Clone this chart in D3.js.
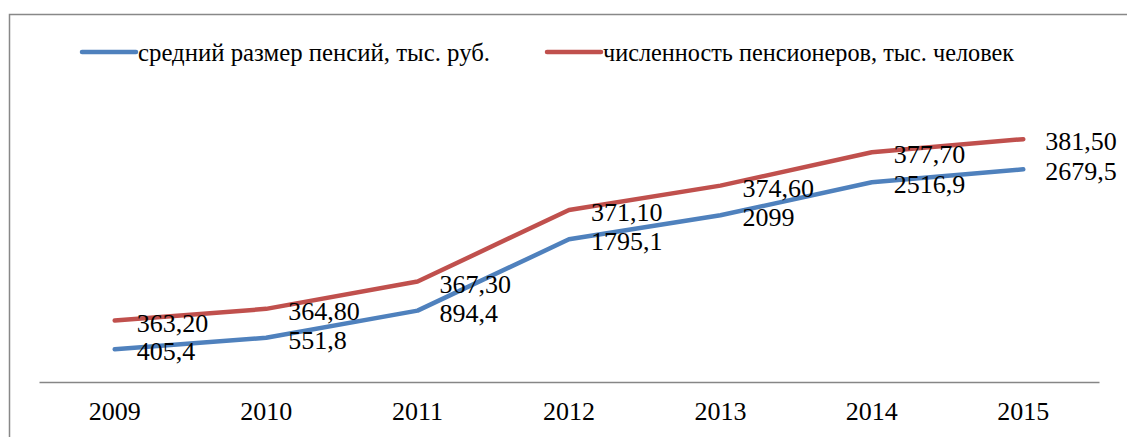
<!DOCTYPE html>
<html>
<head>
<meta charset="utf-8">
<script src="https://cdn.jsdelivr.net/npm/d3@7"></script>
<style>
body { margin: 0; background: #fff; }
</style>
</head>
<body>
<svg width="1127" height="437"></svg>
<script>
// данные
var years = ["2009", "2010", "2011", "2012", "2013", "2014", "2015"];
var pension = [405.4, 551.8, 894.4, 1795.1, 2099, 2516.9, 2679.5];
var pensioners = [363.2, 364.8, 367.3, 371.1, 374.6, 377.7, 381.5];
var pensionLabels = ["405,4", "551,8", "894,4", "1795,1", "2099", "2516,9", "2679,5"];
var pensionersLabels = ["363,20", "364,80", "367,30", "371,10", "374,60", "377,70", "381,50"];
var seriesNames = ["средний размер пенсий, тыс. руб.", "численность пенсионеров, тыс. человек"];
var colors = ["#4F81BD", "#C0504D"];

var FONT = "'Liberation Serif', 'Times New Roman', serif";
var svg = d3.select("svg");

// рамка диаграммы
svg.append("rect")
  .attr("x", 9.5).attr("y", 14.5)
  .attr("width", 1140).attr("height", 440)
  .attr("fill", "none").attr("stroke", "#888").attr("stroke-width", 1.5);

var x = d3.scaleBand().domain(years).range([39, 1099]);
// график с накоплением: вторая серия лежит поверх первой
var y = d3.scaleLinear().domain([0, 3500]).range([381.4, 104.4]);

var stacked = pensioners.map(function (v, i) { return v + pension[i]; });

svg.append("g")
  .attr("transform", "translate(0,382)")
  .call(d3.axisBottom(x).tickSize(0).tickPadding(20))
  .call(function (g) {
    g.select(".domain").attr("stroke", "#868686").attr("stroke-width", 1.5);
    g.selectAll("text").attr("font-size", 26).style("font-family", FONT).attr("fill", "#000");
  });

var line = d3.line()
  .x(function (d, i) { return x(years[i]) + x.bandwidth() / 2; })
  .y(function (d) { return y(d); });

var series = [
  { vals: pension, labels: pensionLabels, color: colors[0] },
  { vals: stacked, labels: pensionersLabels, color: colors[1] }
];

series.forEach(function (s) {
  svg.append("path")
    .datum(s.vals)
    .attr("d", line)
    .attr("fill", "none")
    .attr("stroke", s.color)
    .attr("stroke-width", 4.5)
    .attr("stroke-linecap", "round")
    .attr("stroke-linejoin", "round");

  svg.append("g").selectAll("text")
    .data(s.vals)
    .enter().append("text")
    .attr("x", function (d, i) { return x(years[i]) + x.bandwidth() / 2 + 22; })
    .attr("y", function (d) { return y(d) + 2; })
    .attr("dy", "0.35em")
    .attr("font-size", 26)
    .style("font-family", FONT)
    .text(function (d, i) { return s.labels[i]; });
});

// легенда (кириллица в оригинальном шрифте уже, поэтому подгоняем длину)
var legendX = [82, 547];
var legendW = [352, 411];
seriesNames.forEach(function (name, i) {
  var g = svg.append("g").attr("transform", "translate(" + legendX[i] + ",52)");
  g.append("line")
    .attr("x1", 0).attr("x2", 54)
    .attr("stroke", colors[i]).attr("stroke-width", 4.5)
    .attr("stroke-linecap", "round");
  g.append("text")
    .attr("x", 56).attr("dy", "0.35em")
    .attr("font-size", 26)
    .attr("textLength", legendW[i])
    .attr("lengthAdjust", "spacingAndGlyphs")
    .style("font-family", FONT)
    .text(name);
});
</script>
</body>
</html>
